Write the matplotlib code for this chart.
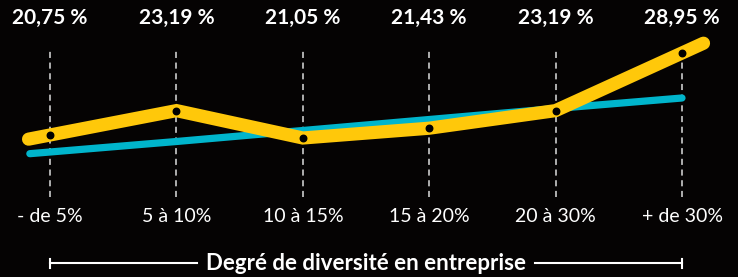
import matplotlib.pyplot as plt
import numpy as np

categories = ['- de 5%', '5 à 10%', '10 à 15%', '15 à 20%', '20 à 30%', '+ de 30%']
# dot heights as drawn in the picture (the 3rd sits a bit lower than its label)
yellow_values = [20.75, 23.19, 20.45, 21.43, 23.19, 28.95]
yellow_labels = ['20,75 %', '23,19 %', '21,05 %', '21,43 %', '23,19 %', '28,95 %']
blue_values = [19.05, 20.1, 21.2, 22.3, 23.4, 24.45]
axis_title = 'Degré de diversité en entreprise'

BG = '#050303'
YELLOW = '#FFC80A'
BLUE = '#00B5CC'
FONT = ['Lato', 'DejaVu Sans']


def extend(x, y, left, right):
    # stretch the first/last segment a little beyond the end points
    x = list(x)
    y = list(y)
    if left:
        s = (y[1] - y[0]) / (x[1] - x[0])
        x.insert(0, x[0] - left)
        y.insert(0, y[0] - s * left)
    if right:
        s = (y[-1] - y[-2]) / (x[-1] - x[-2])
        x.append(x[-1] + right)
        y.append(y[-1] + s * right)
    return x, y


fig = plt.figure(figsize=(7.38, 2.77), dpi=100, facecolor=BG)
ax = fig.add_axes([0, 0, 1, 1])
ax.set_facecolor(BG)
ax.set_xlim(-0.396, 5.443)
ax.set_ylim(6.55, 34.25)
ax.axis('off')

xs = np.arange(len(categories))

# dashed guides
for x in xs:
    ax.plot([x, x], [14.6, 29.5], color='#dddddd', lw=1.1,
            dashes=(4, 3), zorder=1)

bx, by = extend(xs, blue_values, 0.16, 0)
ax.plot(bx, by, color=BLUE, lw=5.2, solid_capstyle='round', zorder=2)

yx, yy = extend(xs, yellow_values, 0.17, 0.17)
ax.plot(yx, yy, color=YELLOW, lw=9.5, solid_capstyle='round',
        solid_joinstyle='miter', zorder=3)
ax.scatter(xs, yellow_values, s=22, color='black', zorder=4)

for x, lab in zip(xs, yellow_labels):
    ax.text(x, 32.45, lab, color='white', fontsize=15, fontweight='bold',
            family=FONT, ha='center', va='center')

for x, cat in zip(xs, categories):
    ax.text(x, 12.65, cat, color='white', fontsize=14, family=FONT,
            ha='center', va='center')

# bracket under the axis
yb = 7.95
ax.plot([0, 1.16], [yb, yb], color='white', lw=1.5)
ax.plot([3.84, 5], [yb, yb], color='white', lw=1.5)
for x in [0, 5]:
    ax.plot([x, x], [yb - 0.45, yb + 0.45], color='white', lw=1.5)
ax.text(2.5, yb, axis_title, color='white', fontsize=16, fontweight='bold',
        family=FONT, ha='center', va='center')

fig.savefig('out.png', dpi=100, facecolor=BG)
